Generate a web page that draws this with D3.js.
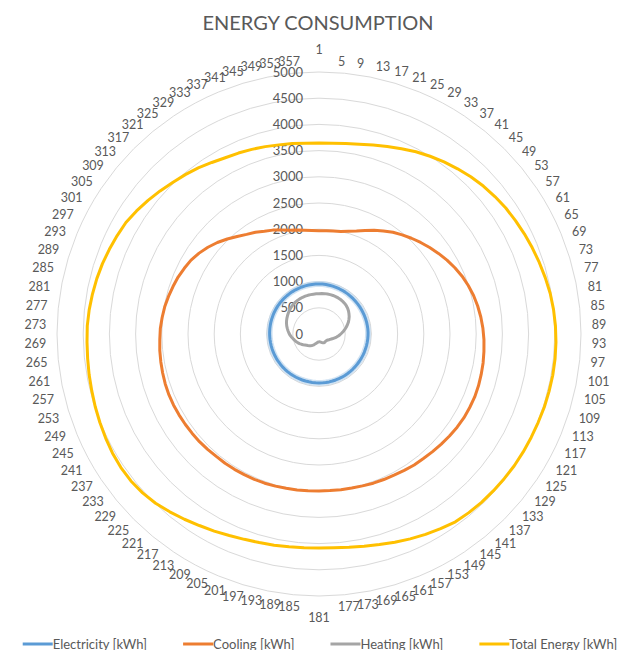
<!DOCTYPE html>
<html>
<head>
<meta charset="utf-8">
<style>
  body { margin: 0; background: #fff; }
  text { font-family: Lato, "Open Sans", sans-serif; fill: #595959; }
</style>
</head>
<body>
<script src="https://d3js.org/d3.v7.min.js"></script>
<script>

// category labels (every 4th day)
var categories = [1,5,9,13,17,21,25,29,33,37,41,45,49,53,57,61,65,69,73,77,81,85,89,93,97,
  101,105,109,113,117,121,125,129,133,137,141,145,149,153,157,161,165,169,173,177,181,185,189,193,197,
  201,205,209,213,217,221,225,229,233,237,241,245,249,253,257,261,265,269,273,277,281,285,289,293,297,
  301,305,309,313,317,321,325,329,333,337,341,345,349,353,357];

var radialTicks = [0,500,1000,1500,2000,2500,3000,3500,4000,4500,5000];

// series values
var electricity = [955,955,954,952,950,948,946,944,942,940,938,937,936,935,935,934,934,935,935,936,
  936,937,937,936,935,934,933,932,932,931,931,930,930,930,931,931,932,932,933,933,
  934,934,935,935,935,934,934,933,933,933,934,934,935,935,936,936,936,937,937,937,
  938,938,939,939,940,940,941,942,943,944,945,946,947,948,949,950,951,952,952,953,
  953,954,954,955,955,955,955,955,955,955];

var cooling = [1970,1975,1985,2000,2040,2090,2160,2240,2320,2400,2470,2540,2610,2680,2750,2820,2885,2945,2995,3040,
  3075,3105,3130,3150,3165,3180,3190,3200,3205,3200,3195,3180,3160,3140,3120,3100,3090,3070,3050,3040,
  3030,3015,3005,3000,2995,2995,3000,3005,3010,3020,3030,3035,3040,3045,3050,3050,3060,3070,3075,3080,
  3085,3090,3090,3085,3075,3065,3055,3040,3030,3010,2990,2960,2930,2900,2860,2820,2760,2690,2610,2520,
  2430,2350,2290,2220,2170,2110,2060,2030,2000,1980];

var heating = [770,775,778,780,782,783,782,780,776,770,762,750,735,715,690,665,635,605,570,535,
  500,465,430,400,370,340,310,280,255,235,220,205,195,190,188,188,190,192,190,185,
  175,165,158,152,150,150,152,158,168,182,200,220,240,258,275,290,305,320,340,365,
  390,415,440,462,482,505,530,555,575,595,615,635,652,668,682,695,708,720,732,742,
  750,757,762,765,767,768,768,768,768,769];

var totalEnergy = [3645,3650,3670,3700,3750,3810,3870,3940,4000,4060,4115,4170,4220,4260,4300,4330,4360,4390,4420,4450,
  4480,4500,4515,4525,4530,4530,4525,4520,4510,4505,4500,4495,4485,4475,4465,4450,4430,4380,4330,4280,
  4230,4180,4140,4110,4090,4085,4090,4100,4120,4140,4170,4210,4260,4310,4370,4430,4490,4530,4555,4560,
  4550,4530,4510,4490,4470,4455,4440,4430,4425,4410,4390,4370,4345,4315,4285,4255,4200,4140,4080,4020,
  3970,3920,3860,3810,3780,3750,3720,3690,3670,3650];

var seriesNames = ["Electricity [kWh]", "Cooling [kWh]", "Heating [kWh]", "Total Energy [kWh]"];
var seriesColors = ["#5b9bd5", "#ed7d31", "#a5a5a5", "#ffc000"];
var seriesData = [electricity, cooling, heating, totalEnergy];

var width = 629, height = 650;
var cx = 319, cy = 334, R = 262;

var svg = d3.select("body").append("svg")
  .attr("width", width)
  .attr("height", height);

var angle = d3.scaleBand()
  .domain(categories)
  .range([0, 2 * Math.PI])
  .paddingInner(0).paddingOuter(0).align(0);

var r = d3.scaleLinear().domain([0, 5000]).range([0, R]);

svg.append("text")
  .attr("x", 318).attr("y", 30)
  .attr("text-anchor", "middle")
  .style("font-size", "20px")
  .text("ENERGY CONSUMPTION");

var g = svg.append("g").attr("transform", "translate(" + cx + "," + cy + ")");

// grid rings
g.selectAll("circle.ring")
  .data(radialTicks.filter(function(d) { return d > 0; }))
  .enter().append("circle")
  .attr("class", "ring")
  .attr("r", function(d) { return r(d); })
  .attr("fill", "none")
  .attr("stroke", "#d9d9d9")
  .attr("stroke-width", 1);

// value labels
g.selectAll("text.tick")
  .data(radialTicks)
  .enter().append("text")
  .attr("class", "tick")
  .attr("x", -16)
  .attr("y", function(d) { return -r(d); })
  .attr("dy", "0.35em")
  .attr("text-anchor", "end")
  .style("font-size", "13px")
  .text(function(d) { return d; });

// category labels
var labR = R + 11;
g.selectAll("text.cat")
  .data(categories)
  .enter().append("text")
  .attr("class", "cat")
  .style("font-size", "12.5px")
  .attr("dy", "0.35em")
  .each(function(d) {
    var a = angle(d);
    var s = Math.sin(a), c = Math.cos(a);
    var x = labR * s, y = -labR * c;
    var anchor = "middle";
    if (Math.abs(s) < 1e-6) {
      y += c > 0 ? -11 : 11;
    } else {
      anchor = s > 0 ? "start" : "end";
    }
    d3.select(this)
      .attr("x", x).attr("y", y)
      .attr("text-anchor", anchor)
      .text(d);
  });

var line = d3.lineRadial()
  .angle(function(d, i) { return angle(categories[i]); })
  .radius(function(d) { return r(d); })
  .curve(d3.curveLinearClosed);

// soft halo under the electricity line
g.append("path")
  .attr("d", line(electricity))
  .attr("fill", "none")
  .attr("stroke", "#bdd7ee")
  .attr("stroke-width", 6)
  .attr("opacity", 0.7);

seriesData.forEach(function(vals, k) {
  g.append("path")
    .attr("d", line(vals))
    .attr("fill", "none")
    .attr("stroke", seriesColors[k])
    .attr("stroke-width", 3)
    .attr("stroke-linejoin", "round");
});

// legend
var legend = svg.append("g");
var lx = 0, lineLen = 30, gap = 36;
seriesNames.forEach(function(name, k) {
  var item = legend.append("g").attr("transform", "translate(" + lx + ",0)");
  item.append("line")
    .attr("x1", 0).attr("x2", lineLen)
    .attr("y1", 644).attr("y2", 644)
    .attr("stroke", seriesColors[k])
    .attr("stroke-width", 3);
  var t = item.append("text")
    .attr("x", lineLen).attr("y", 648.5)
    .style("font-size", "13px")
    .text(name);
  lx += lineLen + t.node().getComputedTextLength() + gap;
});
var legW = lx - gap;
legend.attr("transform", "translate(" + (320 - legW / 2) + ",0)");

</script>
</body>
</html>
